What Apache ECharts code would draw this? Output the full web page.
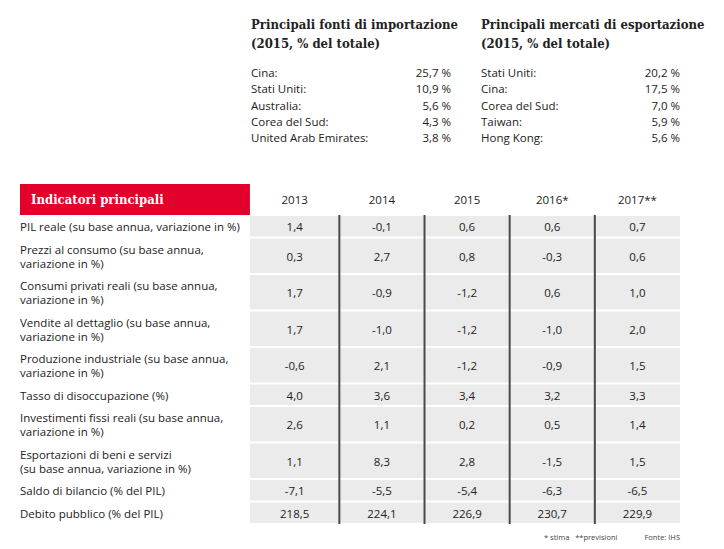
<!DOCTYPE html>
<html>
<head>
<meta charset="utf-8">
<script src="https://cdn.jsdelivr.net/npm/echarts@6/dist/echarts.min.js"></script>
<style>html,body{margin:0;padding:0;background:#fff}#chart{width:724px;height:549px}</style>
</head>
<body>
<div id="chart"></div>
<script>
// ---- data ----
const importCountries = ['Cina:', 'Stati Uniti:', 'Australia:', 'Corea del Sud:', 'United Arab Emirates:'];
const importShares = [25.7, 10.9, 5.6, 4.3, 3.8];
const exportCountries = ['Stati Uniti:', 'Cina:', 'Corea del Sud:', 'Taiwan:', 'Hong Kong:'];
const exportShares = [20.2, 17.5, 7.0, 5.9, 5.6];
const years = ['2013', '2014', '2015', '2016*', '2017**'];
const indicators = [
  'PIL reale (su base annua, variazione in %)',
  'Prezzi al consumo (su base annua,\nvariazione in %)',
  'Consumi privati reali (su base annua,\nvariazione in %)',
  'Vendite al dettaglio (su base annua,\nvariazione in %)',
  'Produzione industriale (su base annua,\nvariazione in %)',
  'Tasso di disoccupazione (%)',
  'Investimenti fissi reali (su base annua,\nvariazione in %)',
  'Esportazioni di beni e servizi\n(su base annua, variazione in %)',
  'Saldo di bilancio (% del PIL)',
  'Debito pubblico (% del PIL)'
];
const v2013 = [1.4, 0.3, 1.7, 1.7, -0.6, 4.0, 2.6, 1.1, -7.1, 218.5];
const v2014 = [-0.1, 2.7, -0.9, -1.0, 2.1, 3.6, 1.1, 8.3, -5.5, 224.1];
const v2015 = [0.6, 0.8, -1.2, -1.2, -1.2, 3.4, 0.2, 2.8, -5.4, 226.9];
const v2016 = [0.6, -0.3, 0.6, -1.0, -0.9, 3.2, 0.5, -1.5, -6.3, 230.7];
const v2017 = [0.7, 0.6, 1.0, 2.0, 1.5, 3.3, 1.4, 1.5, -6.5, 229.9];
const yearValues = [v2013, v2014, v2015, v2016, v2017];

// ---- layout helpers ----
const SANS = '"Open Sans", "Noto Sans", sans-serif';
const SERIF = '"DejaVu Serif Condensed", "DejaVu Serif", serif';
const TXT = '11.5px ' + SANS;
const fmt = v => v.toFixed(1).replace('.', ',');
const rowUnits = indicators.map(t => t.indexOf('\n') >= 0 ? 1.62 : 1);
const rowStart = [];
let acc = 0;
rowUnits.forEach(u => { rowStart.push(acc); acc += u; });
const totalUnits = acc;
const headerUnits = 1.38;
const labelX = -2.75;

const cellData = [];
yearValues.forEach((arr, c) => arr.forEach((v, r) => cellData.push([c, r, v])));

function listRender(params, api) {
  const i = api.value(1);
  const p0 = api.coord([0, i]);
  const p1 = api.coord([1, i]);
  const name = params.seriesIndex === 0 ? importCountries[i] : exportCountries[i];
  return {
    type: 'group', children: [
      { type: 'text', x: p0[0], y: p0[1], style: { text: name, textAlign: 'left', verticalAlign: 'middle', textVerticalAlign: 'middle', font: TXT, fill: '#222' } },
      { type: 'text', x: p1[0], y: p1[1], style: { text: fmt(api.value(2)) + ' %', textAlign: 'right', verticalAlign: 'middle', textVerticalAlign: 'middle', font: TXT, fill: '#222' } }
    ]
  };
}

const chart = echarts.init(document.getElementById('chart'), null, { renderer: 'svg' });
chart.setOption({
  backgroundColor: '#fff',
  animation: false,
  title: [
    { text: 'Principali fonti di importazione\n(2015, % del totale)', left: 251, top: 15, padding: 0,
      textStyle: { fontFamily: SERIF, fontWeight: 'bold', fontSize: 13, lineHeight: 19, color: '#222' } },
    { text: 'Principali mercati di esportazione\n(2015, % del totale)', left: 481, top: 15, padding: 0,
      textStyle: { fontFamily: SERIF, fontWeight: 'bold', fontSize: 13, lineHeight: 19, color: '#222' } },
    { text: '* stima   **previsioni', left: 544, top: 533, padding: 0,
      textStyle: { fontFamily: SANS, fontWeight: 'normal', fontSize: 7.5, color: '#444' } },
    { text: 'Fonte: IHS', right: 44, top: 533, padding: 0,
      textStyle: { fontFamily: SANS, fontWeight: 'normal', fontSize: 7.5, color: '#444' } }
  ],
  grid: [
    { left: 251, width: 200, top: 64, height: 82 },
    { left: 481, width: 199, top: 64, height: 82 },
    { left: 20, right: 44, top: 184, bottom: 25 }
  ],
  xAxis: [
    { type: 'value', gridIndex: 0, min: 0, max: 1, show: false },
    { type: 'value', gridIndex: 1, min: 0, max: 1, show: false },
    { type: 'value', gridIndex: 2, min: labelX, max: 5, show: false }
  ],
  yAxis: [
    { type: 'category', gridIndex: 0, data: importCountries, inverse: true, show: false },
    { type: 'category', gridIndex: 1, data: exportCountries, inverse: true, show: false },
    { type: 'value', gridIndex: 2, min: -headerUnits, max: totalUnits, inverse: true, show: false }
  ],
  series: [
    { type: 'custom', xAxisIndex: 0, yAxisIndex: 0, renderItem: listRender,
      encode: { x: 0, y: 1 }, data: importShares.map((v, i) => [0, i, v]) },
    { type: 'custom', xAxisIndex: 1, yAxisIndex: 1, renderItem: listRender,
      encode: { x: 0, y: 1 }, data: exportShares.map((v, i) => [0, i, v]) },
    // table cells
    { type: 'custom', xAxisIndex: 2, yAxisIndex: 2, clip: false, encode: { x: 0, y: 1 },
      data: cellData,
      renderItem: function (params, api) {
        const c = api.value(0), r = api.value(1), v = api.value(2);
        const y0 = rowStart[r], y1 = y0 + rowUnits[r];
        const pA = api.coord([c === 0 ? -0.05 : c, y0]);
        const pB = api.coord([c + 1, y1]);
        return {
          type: 'group', children: [
            { type: 'rect', shape: { x: pA[0], y: pA[1] + 1, width: pB[0] - pA[0], height: pB[1] - pA[1] - 2 }, style: { fill: '#ebebeb' } },
            { type: 'text', x: (pA[0] + pB[0]) / 2, y: (pA[1] + pB[1]) / 2 + 0.5,
              style: { text: fmt(v), textAlign: 'center', verticalAlign: 'middle', textVerticalAlign: 'middle', font: TXT, fill: '#222' } }
          ]
        };
      } },
    // row labels
    { type: 'custom', xAxisIndex: 2, yAxisIndex: 2, clip: false, encode: { x: 0, y: 1 },
      data: indicators.map((t, r) => [labelX, r]),
      renderItem: function (params, api) {
        const r = api.value(1);
        const p = api.coord([labelX, rowStart[r] + rowUnits[r] / 2]);
        return { type: 'text', x: p[0], y: p[1] + 0.5,
          style: { text: indicators[r], textAlign: 'left', verticalAlign: 'middle', textVerticalAlign: 'middle', font: TXT, lineHeight: 14, fill: '#222' } };
      } },
    // vertical dividers
    { type: 'custom', xAxisIndex: 2, yAxisIndex: 2, clip: false, encode: { x: 0, y: 1 },
      data: [[1, 0], [2, 0], [3, 0], [4, 0]],
      renderItem: function (params, api) {
        const a = api.coord([api.value(0), 0]);
        const b = api.coord([api.value(0), totalUnits]);
        return { type: 'line', shape: { x1: a[0], y1: a[1], x2: b[0], y2: b[1] }, style: { stroke: '#4a4a4a', lineWidth: 2 } };
      } },
    // header: red box + years
    { type: 'custom', xAxisIndex: 2, yAxisIndex: 2, clip: false, encode: { x: 0, y: 1 },
      data: years.map((y, c) => [c, -headerUnits]),
      renderItem: function (params, api) {
        const c = api.value(0);
        const pA = api.coord([c === 0 ? -0.05 : c, -headerUnits]);
        const pB = api.coord([c + 1, 0]);
        const children = [
          { type: 'text', x: (pA[0] + pB[0]) / 2, y: (pA[1] + pB[1]) / 2,
            style: { text: years[c], textAlign: 'center', verticalAlign: 'middle', textVerticalAlign: 'middle', font: TXT, fill: '#222' } }
        ];
        if (c === 0) {
          const bA = api.coord([labelX, -headerUnits]);
          const bB = api.coord([-0.05, 0]);
          children.push(
            { type: 'rect', shape: { x: bA[0], y: bA[1], width: bB[0] - bA[0], height: bB[1] - bA[1] }, style: { fill: '#e3002b' } },
            { type: 'text', x: bA[0] + 11, y: (bA[1] + bB[1]) / 2,
              style: { text: 'Indicatori principali', textAlign: 'left', verticalAlign: 'middle', textVerticalAlign: 'middle', font: 'bold 13px ' + SERIF, fill: '#fff' } }
          );
        }
        return { type: 'group', children: children };
      } }
  ]
});
</script>
</body>
</html>
